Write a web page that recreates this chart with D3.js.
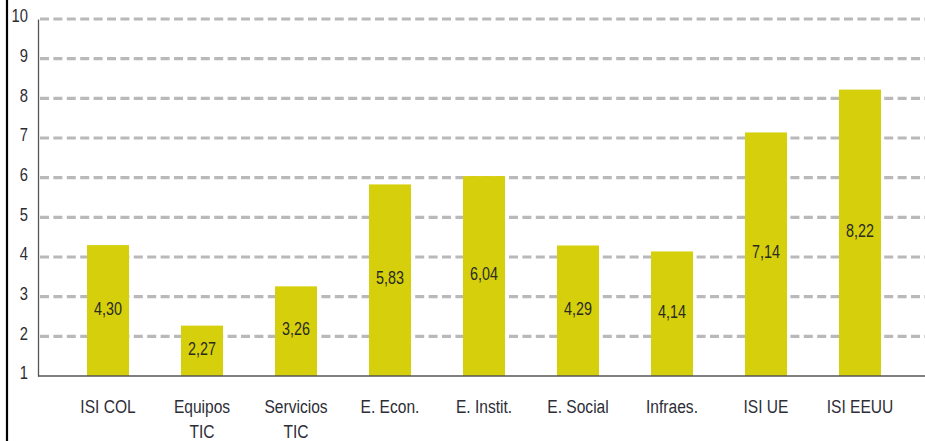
<!DOCTYPE html>
<html>
<head>
<meta charset="utf-8">
<script src="https://cdn.jsdelivr.net/npm/d3@7"></script>
<style>
  html, body { margin: 0; padding: 0; background: #fff; }
  svg { display: block; }
  text { font-family: "Liberation Sans", Arial, sans-serif; }
</style>
</head>
<body>
<svg id="chart" width="925" height="441"></svg>
<script>
const categories = [["ISI COL"], ["Equipos", "TIC"], ["Servicios", "TIC"], ["E. Econ."], ["E. Instit."], ["E. Social"], ["Infraes."], ["ISI UE"], ["ISI EEUU"]];
const values = [4.30, 2.27, 3.26, 5.83, 6.04, 4.29, 4.14, 7.14, 8.22];
const valueLabels = ["4,30", "2,27", "3,26", "5,83", "6,04", "4,29", "4,14", "7,14", "8,22"];
const yTicks = [1, 2, 3, 4, 5, 6, 7, 8, 9, 10];

const svg = d3.select("#chart");
const W = 925, H = 441;
const plotLeft = 38, plotRight = 925, plotTop = 19, plotBottom = 376;
const SX = 0.82; // horizontal condensing of text

const keys = categories.map(c => c.join(" "));
const x = d3.scaleBand().domain(keys).range([61, 907]).paddingInner(0.553).paddingOuter(0.2765);
const y = d3.scaleLinear().domain([1, 10]).range([plotBottom, plotTop]);

// left frame border
svg.append("line").attr("x1", 7).attr("x2", 7).attr("y1", 0).attr("y2", H)
  .attr("stroke", "#000").attr("stroke-width", 2.2);

// gridlines
svg.append("g").selectAll("line").data(yTicks.filter(t => t > 1)).join("line")
  .attr("x1", plotLeft + 2).attr("x2", plotRight)
  .attr("y1", d => y(d)).attr("y2", d => y(d))
  .attr("stroke", "#b9b9bc").attr("stroke-width", 3.2)
  .attr("stroke-dasharray", "9,4.4");

// bars
svg.append("g").selectAll("rect").data(values).join("rect")
  .attr("x", (d, i) => x(keys[i]))
  .attr("width", x.bandwidth())
  .attr("y", d => y(d))
  .attr("height", d => y(1) - y(d))
  .attr("fill", "#d5d00b");

// value labels
svg.append("g").selectAll("text").data(values).join("text")
  .attr("transform", (d, i) => `translate(${x(keys[i]) + x.bandwidth() / 2},${(y(d) + y(1)) / 2 - 2}) scale(${SX},1)`)
  .attr("text-anchor", "middle").attr("dy", "0.35em")
  .attr("font-size", 17.5).attr("fill", "#2a2a22")
  .text((d, i) => valueLabels[i]);

// y axis
const yAxis = d3.axisLeft(y).tickValues(yTicks).tickSize(0).tickPadding(0).tickFormat(d3.format("d"));
const gy = svg.append("g").attr("transform", `translate(${plotLeft},0)`).call(yAxis);
gy.select(".domain").attr("stroke", "#555").attr("stroke-width", 1.3);
gy.selectAll(".tick text").attr("x", null)
  .attr("transform", `translate(-10,-3) scale(${SX},1)`)
  .attr("font-size", 18).attr("fill", "#2d2d33")
  .attr("font-family", '"Liberation Sans", Arial, sans-serif');

// x axis line
svg.append("line").attr("x1", plotLeft).attr("x2", plotRight)
  .attr("y1", plotBottom).attr("y2", plotBottom)
  .attr("stroke", "#555").attr("stroke-width", 1.5);

// x labels
const xl = svg.append("g").selectAll("text").data(categories).join("text")
  .attr("transform", (d, i) => `translate(${x(keys[i]) + x.bandwidth() / 2},413) scale(${SX},1)`)
  .attr("text-anchor", "middle")
  .attr("font-size", 19).attr("fill", "#2d2d36");
xl.each(function(d) {
  const t = d3.select(this);
  d.forEach((line, j) => {
    t.append("tspan").attr("x", 0).attr("dy", j === 0 ? 0 : 25).text(line);
  });
});
</script>
</body>
</html>
